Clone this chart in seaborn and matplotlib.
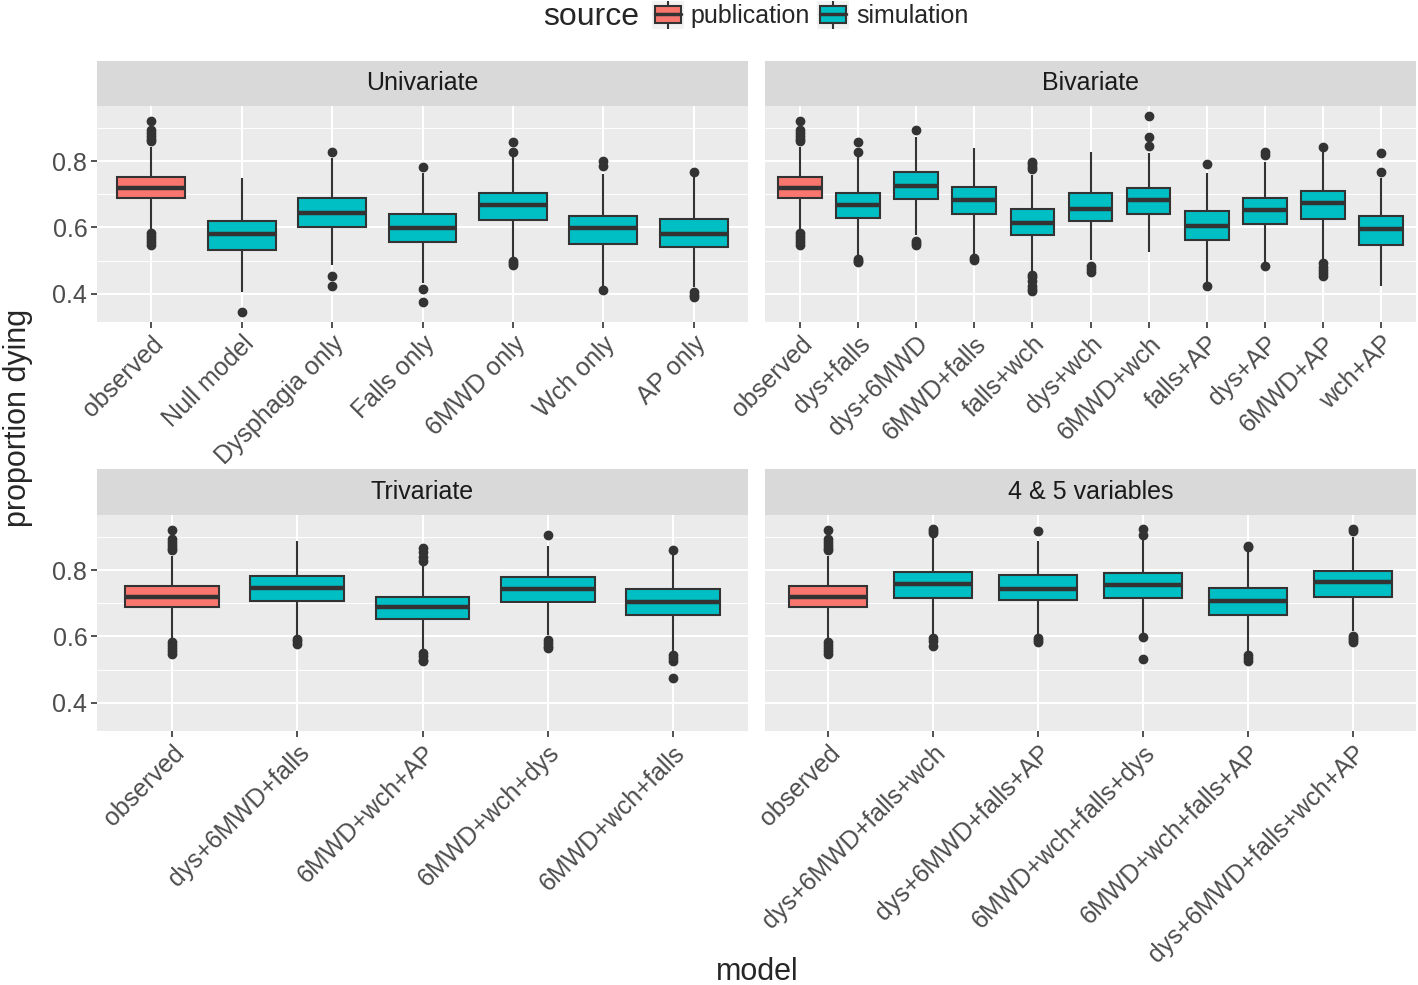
import numpy as np
import pandas as pd
import matplotlib
matplotlib.use("Agg")
import matplotlib.pyplot as plt
from matplotlib.patches import Rectangle
import seaborn as sns

# ---- data (five-number summary + outliers) ----
uni_models = ['observed', 'Null model', 'Dysphagia only', 'Falls only',
              '6MWD only', 'Wch only', 'AP only']
uni_q1 = [0.688, 0.531, 0.602, 0.557, 0.623, 0.549, 0.540]
uni_med = [0.720, 0.579, 0.645, 0.597, 0.667, 0.597, 0.579]
uni_q3 = [0.751, 0.619, 0.689, 0.641, 0.704, 0.634, 0.625]
uni_lo = [0.595, 0.406, 0.487, 0.433, 0.512, 0.424, 0.421]
uni_hi = [0.843, 0.748, 0.808, 0.765, 0.811, 0.760, 0.751]
uni_out = [[0.921, 0.893, 0.885, 0.877, 0.868, 0.860, 0.582, 0.575, 0.565, 0.555, 0.548],
           [0.346],
           [0.828, 0.455, 0.423],
           [0.781, 0.414, 0.375],
           [0.857, 0.828, 0.498, 0.492, 0.486],
           [0.800, 0.785, 0.410],
           [0.767, 0.406, 0.397, 0.390]]

bi_models = ['observed', 'dys+falls', 'dys+6MWD', '6MWD+falls', 'falls+wch',
             'dys+wch', '6MWD+wch', 'falls+AP', 'dys+AP', '6MWD+AP', 'wch+AP']
bi_q1 = [0.688, 0.627, 0.686, 0.639, 0.578, 0.618, 0.640, 0.563, 0.609, 0.625, 0.548]
bi_med = [0.720, 0.667, 0.726, 0.683, 0.612, 0.657, 0.682, 0.603, 0.652, 0.673, 0.595]
bi_q3 = [0.751, 0.704, 0.767, 0.722, 0.656, 0.704, 0.720, 0.651, 0.688, 0.711, 0.634]
bi_lo = [0.595, 0.517, 0.577, 0.517, 0.469, 0.502, 0.525, 0.436, 0.494, 0.502, 0.423]
bi_hi = [0.843, 0.811, 0.873, 0.838, 0.758, 0.826, 0.823, 0.765, 0.798, 0.826, 0.748]
bi_out = [[0.921, 0.893, 0.885, 0.877, 0.868, 0.860, 0.582, 0.575, 0.565, 0.555, 0.548],
          [0.858, 0.826, 0.505, 0.500, 0.495],
          [0.893, 0.560, 0.552, 0.547],
          [0.508, 0.502],
          [0.798, 0.790, 0.782, 0.776, 0.458, 0.450, 0.440, 0.425, 0.415, 0.408],
          [0.485, 0.475, 0.465],
          [0.936, 0.873, 0.845],
          [0.790, 0.423],
          [0.828, 0.818, 0.485],
          [0.843, 0.492, 0.482, 0.472, 0.462, 0.455],
          [0.825, 0.767]]

tri_models = ['observed', 'dys+6MWD+falls', '6MWD+wch+AP', '6MWD+wch+dys', '6MWD+wch+falls']
tri_q1 = [0.688, 0.707, 0.652, 0.703, 0.665]
tri_med = [0.720, 0.746, 0.688, 0.743, 0.703]
tri_q3 = [0.751, 0.781, 0.718, 0.778, 0.743]
tri_lo = [0.595, 0.601, 0.559, 0.604, 0.554]
tri_hi = [0.843, 0.888, 0.811, 0.873, 0.845]
tri_out = [[0.921, 0.893, 0.885, 0.877, 0.868, 0.860, 0.582, 0.575, 0.565, 0.555, 0.548],
           [0.592, 0.585, 0.578],
           [0.866, 0.855, 0.840, 0.828, 0.550, 0.540, 0.530, 0.525],
           [0.906, 0.588, 0.580, 0.572, 0.565],
           [0.862, 0.545, 0.535, 0.525, 0.476]]

multi_models = ['observed', 'dys+6MWD+falls+wch', 'dys+6MWD+falls+AP',
                '6MWD+wch+falls+dys', '6MWD+wch+falls+AP', 'dys+6MWD+falls+wch+AP']
multi_q1 = [0.688, 0.715, 0.710, 0.717, 0.666, 0.720]
multi_med = [0.720, 0.759, 0.743, 0.755, 0.706, 0.764]
multi_q3 = [0.751, 0.793, 0.784, 0.791, 0.746, 0.797]
multi_lo = [0.595, 0.604, 0.604, 0.610, 0.554, 0.615]
multi_hi = [0.843, 0.897, 0.889, 0.897, 0.861, 0.900]
multi_out = [[0.921, 0.893, 0.885, 0.877, 0.868, 0.860, 0.582, 0.575, 0.565, 0.555, 0.548],
             [0.925, 0.918, 0.912, 0.594, 0.585, 0.572],
             [0.919, 0.595, 0.588, 0.582],
             [0.925, 0.906, 0.598, 0.532],
             [0.873, 0.869, 0.543, 0.535, 0.525],
             [0.925, 0.918, 0.602, 0.595, 0.588, 0.582]]

sources = ['publication', 'simulation']
colors = {'publication': '#F8766D', 'simulation': '#00BFC4'}


def box_values(q1, med, q3, lo, hi, out, k=30):
    """Values whose boxplot statistics equal the given summary."""
    return list(out) + [lo] + [q1] * k + [med] * k + [q3] * k + [hi]


def facet_frame(models, q1, med, q3, lo, hi, out):
    rows = []
    for i, m in enumerate(models):
        src = 'publication' if m == 'observed' else 'simulation'
        for v in box_values(q1[i], med[i], q3[i], lo[i], hi[i], out[i]):
            rows.append({'model': m, 'value': v, 'source': src})
    return pd.DataFrame(rows)


facets = [
    ('Univariate', uni_models, facet_frame(uni_models, uni_q1, uni_med, uni_q3, uni_lo, uni_hi, uni_out)),
    ('Bivariate', bi_models, facet_frame(bi_models, bi_q1, bi_med, bi_q3, bi_lo, bi_hi, bi_out)),
    ('Trivariate', tri_models, facet_frame(tri_models, tri_q1, tri_med, tri_q3, tri_lo, tri_hi, tri_out)),
    ('4 & 5 variables', multi_models, facet_frame(multi_models, multi_q1, multi_med, multi_q3, multi_lo, multi_hi, multi_out)),
]

# ---- style ----
sns.set_theme(style='darkgrid', rc={
    'axes.facecolor': '#EBEBEB',
    'grid.color': 'white',
    'axes.edgecolor': 'none',
})
plt.rcParams['font.family'] = ['Liberation Sans', 'DejaVu Sans']

W, H = 1418, 985
fig = plt.figure(figsize=(W / 100, H / 100), dpi=100)
fig.patch.set_facecolor('white')


def px_rect(x0, y0, x1, y1):
    return [x0 / W, 1 - y1 / H, (x1 - x0) / W, (y1 - y0) / H]


panel_cols = [(97, 748), (765, 1416)]
panel_rows = [(61, 106, 322), (469, 515, 731)]
ylim = (0.315, 0.966)
dark = '#333333'

for idx, (title, models, df) in enumerate(facets):
    r, c = divmod(idx, 2)
    x0, x1 = panel_cols[c]
    s0, p0, p1 = panel_rows[r]
    ax = fig.add_axes(px_rect(x0, p0, x1, p1))

    sns.boxplot(data=df, x='model', y='value', hue='source', order=models,
                hue_order=sources, palette=colors, saturation=1, dodge=False,
                width=0.75, linewidth=1.5, linecolor=dark, showcaps=False,
                legend=False,
                flierprops=dict(marker='o', markerfacecolor=dark,
                                markeredgecolor=dark, markersize=6),
                medianprops=dict(linewidth=3.2, color=dark),
                whiskerprops=dict(linewidth=1.5, color=dark),
                boxprops=dict(edgecolor=dark),
                ax=ax)

    ax.set_xlim(-0.6, len(models) - 0.4)
    ax.set_ylim(*ylim)
    ax.set_xlabel('')
    ax.set_ylabel('')
    ax.set_yticks([0.4, 0.6, 0.8])
    ax.set_yticks([0.5, 0.7, 0.9], minor=True)
    ax.grid(which='major', color='white', linewidth=1.5)
    ax.grid(which='minor', color='white', linewidth=0.7)
    ax.set_axisbelow(True)
    for sp in ax.spines.values():
        sp.set_visible(False)

    ax.tick_params(axis='both', which='major', length=4, width=1.2,
                   color=dark, labelcolor='#4D4D4D', labelsize=18,
                   bottom=True, left=True, pad=3)
    ax.tick_params(axis='both', which='minor', length=0)
    if c == 1:
        ax.tick_params(axis='y', labelleft=False, left=False)
    else:
        ax.set_yticklabels(['0.4', '0.6', '0.8'])

    ax.set_xticks(range(len(models)))
    ax.set_xticklabels(models, rotation=45, ha='right', va='top',
                       rotation_mode='anchor')

    # facet strip
    sax = fig.add_axes(px_rect(x0, s0, x1, p0))
    sax.set_facecolor('#D9D9D9')
    sax.set_xticks([])
    sax.set_yticks([])
    sax.grid(False)
    for sp in sax.spines.values():
        sp.set_visible(False)
    sax.text(0.5, 0.5, title, ha='center', va='center', fontsize=18,
             color='#1A1A1A', transform=sax.transAxes)

# ---- legend (top) ----
fig.text(543 / W, 1 - 17 / H, 'source', ha='left', va='center', fontsize=23)
for kx, src, lx in [(652, 'publication', 690), (817, 'simulation', 856)]:
    kax = fig.add_axes(px_rect(kx, 1, kx + 32, 29))
    kax.set_facecolor('#F2F2F2')
    kax.set_xlim(0, 1)
    kax.set_ylim(0, 1)
    kax.set_xticks([])
    kax.set_yticks([])
    kax.grid(False)
    for sp in kax.spines.values():
        sp.set_visible(False)
    kax.plot([0.5, 0.5], [0.0, 0.22], color=dark, lw=1.5)
    kax.plot([0.5, 0.5], [0.82, 1.0], color=dark, lw=1.5)
    kax.add_patch(Rectangle((0.08, 0.22), 0.84, 0.6, facecolor=colors[src],
                            edgecolor=dark, lw=1.5))
    kax.plot([0.08, 0.92], [0.52, 0.52], color=dark, lw=2.5)
    fig.text(lx / W, 1 - 16 / H, src, ha='left', va='center', fontsize=18)

# ---- axis titles ----
fig.text(18 / W, 1 - 418 / H, 'proportion dying', rotation=90,
         ha='center', va='center', fontsize=22)
fig.text(757 / W, 1 - 972 / H, 'model', ha='center', va='center', fontsize=22)

fig.savefig('out.png', dpi=100)
